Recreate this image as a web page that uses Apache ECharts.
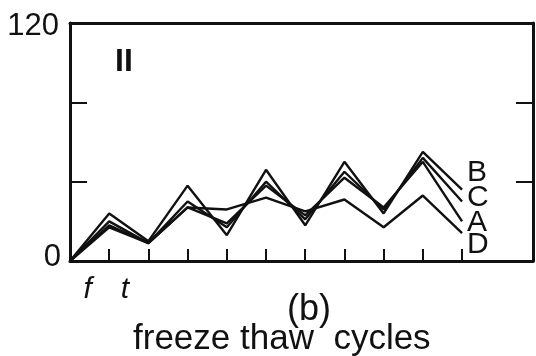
<!DOCTYPE html>
<html>
<head>
<meta charset="utf-8">
<script src="https://cdn.jsdelivr.net/npm/echarts@6/dist/echarts.min.js"></script>
<style>html,body{margin:0;padding:0;background:#fff}#c{width:536px;height:356px}</style>
</head>
<body>
<div id="c"></div>
<script>
var cycles = [0, 1, 2, 3, 4, 5, 6, 7, 8, 9, 10];
var seriesB = [0, 24, 10, 38, 13, 46, 18, 50, 24, 55, 36];
var seriesC = [0, 20, 9, 30, 17, 40, 21, 45, 26, 52, 30];
var seriesA = [0, 18, 9, 27, 19, 38, 23, 42, 27, 50, 20];
var seriesD = [0, 17, 9, 27, 26, 32, 25, 31, 17, 33, 14];
var yTickLabels = [0, 120];
var yMinorTicks = [40, 80];
var xTicks = [1, 2, 3, 4, 5, 6, 7, 8, 9, 10];
var xTickLabels = ['f', 't'];
var xTickLabelPos = [0.45, 1.4];

var FONT = '"Liberation Sans", Arial, Helvetica, sans-serif';
function pairs(arr) { return cycles.map(function (c, i) { return [c, arr[i]]; }); }

var labelOffsets = { B: [0, -17], C: [0, -4], A: [0, 1], D: [0, 12] };
function mk(name, arr) {
  return {
    name: name, type: 'line', data: pairs(arr), symbol: 'none',
    lineStyle: { color: '#111', width: 2.4 },
    endLabel: { show: true, formatter: name, fontFamily: FONT, fontSize: 30, color: '#111',
      distance: 5, offset: labelOffsets[name] },
    animation: false
  };
}

var chart = echarts.init(document.getElementById('c'));
chart.setOption({
  animation: false,
  grid: { left: 70, top: 23, right: 3, bottom: 95 },
  xAxis: [{
    type: 'value', min: 0, max: 11.81, position: 'bottom',
    axisLine: { show: true, onZero: false, lineStyle: { color: '#111', width: 3 } },
    axisTick: { show: true, inside: true, length: 12, customValues: xTicks, lineStyle: { color: '#111', width: 2 } },
    axisLabel: { show: true, customValues: xTickLabelPos, margin: 14, fontFamily: FONT, fontStyle: 'italic', fontSize: 30, color: '#111',
      formatter: function (v) { var i = xTickLabelPos.indexOf(v); return i >= 0 ? xTickLabels[i] : ''; } },
    splitLine: { show: false }
  }, {
    type: 'value', min: 0, max: 11.81, position: 'top',
    axisLine: { show: true, onZero: false, lineStyle: { color: '#111', width: 3 } },
    axisTick: { show: false }, axisLabel: { show: false }, splitLine: { show: false }
  }],
  yAxis: [{
    type: 'value', min: 0, max: 120, position: 'left',
    axisLine: { show: true, onZero: false, lineStyle: { color: '#111', width: 3 } },
    axisTick: { show: true, inside: true, length: 17, customValues: yMinorTicks, lineStyle: { color: '#111', width: 2 } },
    axisLabel: { show: true, customValues: yTickLabels, margin: 9, fontFamily: FONT, fontSize: 31, color: '#111',
      formatter: function (v) { return v === 0 ? '{z|0}' : '{t|' + v + '}'; },
      rich: { z: { fontFamily: FONT, fontSize: 31, color: '#111', padding: [0, 0, 8, 0] },
              t: { fontFamily: FONT, fontSize: 31, color: '#111', padding: [6, 2, 0, 0] } } },
    splitLine: { show: false }
  }, {
    type: 'value', min: 0, max: 120, position: 'right',
    axisLine: { show: true, onZero: false, lineStyle: { color: '#111', width: 3 } },
    axisTick: { show: true, inside: true, length: 17, customValues: yMinorTicks, lineStyle: { color: '#111', width: 2 } },
    axisLabel: { show: false }, splitLine: { show: false }
  }],
  graphic: [
    { type: 'text', left: 115, top: 46, style: { text: 'II', font: 'bold 32px ' + FONT, fill: '#111' } },
    { type: 'text', left: 287, top: 292, style: { text: '(b)', font: '36px ' + FONT, fill: '#111' } },
    { type: 'text', left: 133, top: 322, style: { text: 'freeze thaw  cycles', font: '35px ' + FONT, fill: '#111' } }
  ],
  series: [mk('B', seriesB), mk('C', seriesC), mk('A', seriesA), mk('D', seriesD)]
});
</script>
</body>
</html>
